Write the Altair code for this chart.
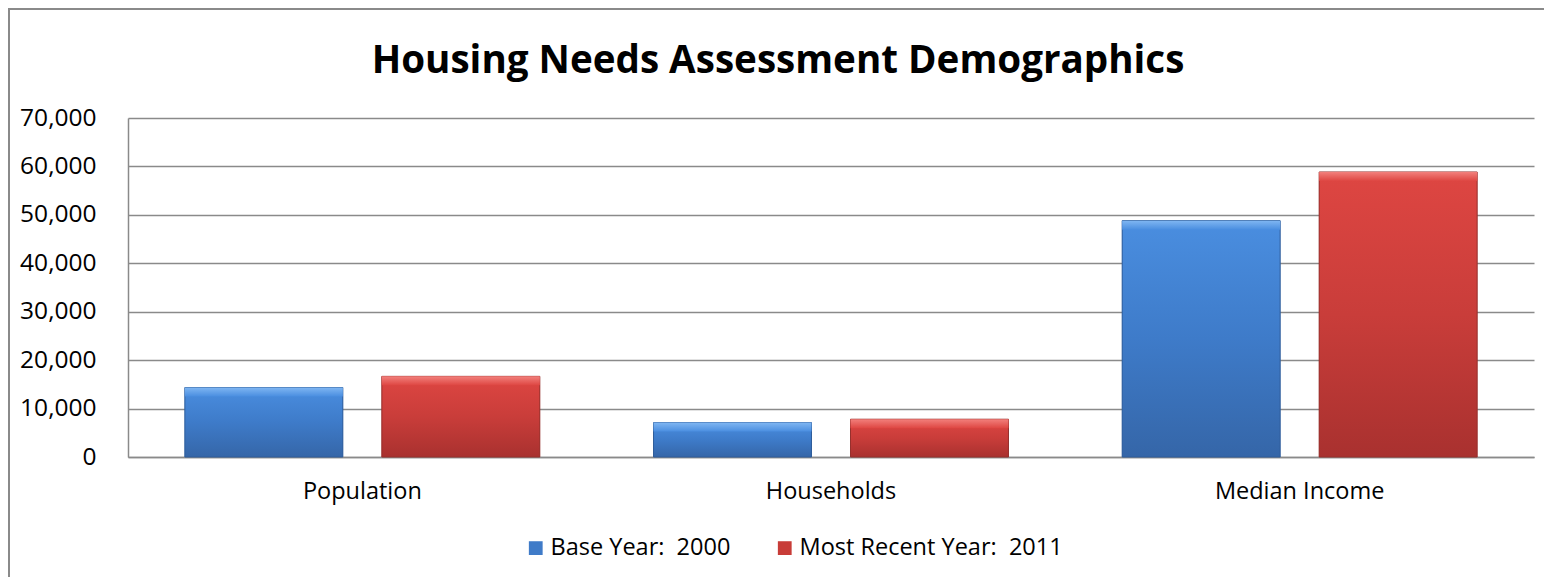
import altair as alt
import pandas as pd

categories = ["Population", "Households", "Median Income"]
series = ["Base Year:\u00a0 2000", "Most Recent Year:\u00a0 2011"]
base_year = [14350, 7100, 48800]
recent_year = [16650, 7800, 58850]
y_ticks = [0, 10000, 20000, 30000, 40000, 50000, 60000, 70000]
title_text = "Housing Needs Assessment Demographics"

rows = []
for c, v in zip(categories, base_year):
    rows.append({"category": c, "series": series[0], "value": v})
for c, v in zip(categories, recent_year):
    rows.append({"category": c, "series": series[1], "value": v})
df = pd.DataFrame(rows)

FONT = "Open Sans"
GRID = "#8a8a8a"
BLUE = "#3f7bc8"
RED = "#c83c38"

W, H = 1406, 339

x_enc = alt.X("category:N", sort=categories,
              scale=alt.Scale(domain=categories, paddingInner=0.2426, paddingOuter=0.1213),
              axis=alt.Axis(title=None, labelAngle=0, ticks=False, domain=True,
                            domainColor=GRID, domainWidth=1.5, labelPadding=22,
                            labelFont=FONT, labelFontSize=23.5, labelColor="#000000",
                            grid=False))
xo_enc = alt.XOffset("series:N", sort=series,
                     scale=alt.Scale(domain=series, paddingInner=0.198, paddingOuter=0))
y_enc = alt.Y("value:Q", scale=alt.Scale(domain=[0, 70000], nice=False),
              axis=alt.Axis(title=None, values=y_ticks, format=",d", ticks=False,
                            domain=True, domainColor=GRID, domainWidth=1.5,
                            grid=True, gridColor=GRID, gridWidth=1.5,
                            labelPadding=32, labelFont=FONT, labelFontSize=24.5,
                            labelColor="#000000"))

base = alt.Chart(df).encode(x=x_enc, xOffset=xo_enc, y=y_enc)

bars = base.mark_bar().encode(
    color=alt.Color("series:N", sort=series,
                    scale=alt.Scale(domain=series, range=[BLUE, RED]),
                    legend=alt.Legend(title=None, orient="none", direction="horizontal",
                                      legendX=396, legendY=418, symbolType="square",
                                      symbolSize=190, symbolStrokeWidth=0,
                                      labelFont=FONT, labelFontSize=23.5, labelLimit=0,
                                      labelColor="#000000", columnPadding=42,
                                      labelOffset=3))
)

def grad(stops):
    return alt.LinearGradient(gradient="linear", x1=0, y1=0, x2=0, y2=1,
                              stops=[alt.GradientStop(offset=o, color=c) for o, c in stops])

blue_fill = grad([(0, "#4a8ee0"), (0.5, "#3e7bc9"), (1, "#3566a8")])
red_fill = grad([(0, "#de4642"), (0.5, "#c93d3a"), (1, "#a9312f")])

blue_bars = base.transform_filter(alt.datum.series == series[0]).mark_bar(
    fill=blue_fill, stroke="#2f5d9a", strokeWidth=1)
red_bars = base.transform_filter(alt.datum.series == series[1]).mark_bar(
    fill=red_fill, stroke="#96302d", strokeWidth=1)

blue_top = alt.Chart(df).transform_filter(alt.datum.series == series[0]).mark_bar(
    fill=grad([(0, "#7fb6f2"), (1, "#4a8ee0")]), y2Offset=9
).encode(x=x_enc, xOffset=xo_enc, y=y_enc, y2="value:Q")
red_top = alt.Chart(df).transform_filter(alt.datum.series == series[1]).mark_bar(
    fill=grad([(0, "#f2807c"), (1, "#de4642")]), y2Offset=9
).encode(x=x_enc, xOffset=xo_enc, y=y_enc, y2="value:Q")

frame = pd.DataFrame({"k": [0]})
top_line = alt.Chart(frame).mark_rule(color=GRID, strokeWidth=2).encode(
    x=alt.value(-120), x2=alt.value(W + 10), y=alt.value(-109))
left_line = alt.Chart(frame).mark_rule(color=GRID, strokeWidth=2).encode(
    x=alt.value(-119), y=alt.value(-110), y2=alt.value(H + 120))
title = alt.Chart(frame).mark_text(
    text=title_text, font=FONT, fontSize=38.6, fontWeight="bold", color="#000000",
    align="center", baseline="alphabetic"
).encode(x=alt.value(650), y=alt.value(-45))

chart = alt.layer(bars, blue_bars, red_bars, blue_top, red_top, top_line, left_line, title).properties(
    width=W, height=H,
    autosize=alt.AutoSizeParams(type="none"),
    padding={"left": 120, "top": 110, "right": 10, "bottom": 120},
    background="#ffffff",
).configure_view(strokeWidth=0)

chart.save("out.html", embed_options={"renderer": "svg", "actions": False})
